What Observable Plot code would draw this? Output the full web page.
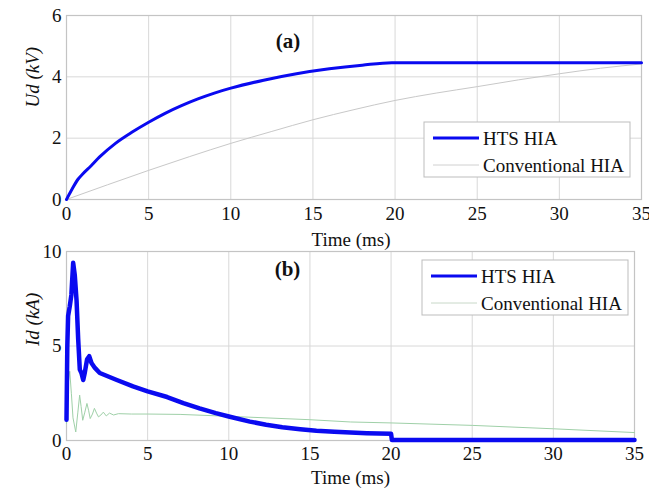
<!DOCTYPE html>
<html>
<head>
<meta charset="utf-8">
<script src="https://cdn.jsdelivr.net/npm/d3@7"></script>
<script src="https://cdn.jsdelivr.net/npm/@observablehq/plot@0.6"></script>
<style>
  body { margin: 0; background: #fff; }
  #wrap { position: relative; width: 649px; height: 488px; overflow: hidden; background: #fff; }
  #top, #bot { position: absolute; left: 0; }
  #top { top: 0; z-index: 1; }
  #bot { top: 238px; z-index: 2; }
  svg { background: transparent !important; }
  svg text { font-family: "Liberation Serif", "Times New Roman", serif !important; }
</style>
</head>
<body>
<div id="wrap"><div id="top"></div><div id="bot"></div></div>
<script>
// ---- Data ----
const xTicks = [0, 5, 10, 15, 20, 25, 30, 35];
const udTicks = [0, 2, 4, 6];
const idTicks = [0, 5, 10];
const seriesNames = ["HTS HIA", "Conventional HIA"];

// (a) Ud (kV)
const udHtsTime = [0, 0.3, 0.7, 1, 1.5, 2, 3, 4, 5, 6, 7, 8, 9, 10, 12, 14, 16, 18, 19.8, 35];
const udHtsVal  = [0, 0.3, 0.66, 0.84, 1.1, 1.38, 1.84, 2.2, 2.52, 2.81, 3.06, 3.28, 3.47, 3.63, 3.89, 4.1, 4.26, 4.38, 4.46, 4.46];
const udConvTime = [0, 2.5, 5, 7.5, 10, 12.5, 15, 17.5, 20, 22.5, 25, 27.5, 30, 32.5, 35];
const udConvVal  = [0, 0.48, 0.95, 1.4, 1.83, 2.22, 2.6, 2.93, 3.23, 3.47, 3.68, 3.9, 4.1, 4.28, 4.42];

// (b) Id (kA)
const idHtsTime = [0, 0.05, 0.1, 0.2, 0.3, 0.41, 0.51, 0.62, 0.72, 0.82, 0.92, 1.03, 1.13, 1.27, 1.4, 1.54, 1.75, 2.05, 3.1, 4.1, 5, 6.2, 7.2, 8.2, 9.2, 10, 11.3, 12.3, 13.3, 14.4, 15.4, 16.5, 17.5, 18.5, 20.0, 20.05, 35];
const idHtsVal  = [1.1, 5.0, 6.6, 7.1, 7.7, 9.4, 8.75, 7.4, 5.36, 3.75, 3.57, 3.2, 3.6, 4.3, 4.46, 4.1, 3.84, 3.57, 3.2, 2.86, 2.6, 2.3, 1.98, 1.7, 1.45, 1.27, 1.0, 0.83, 0.7, 0.6, 0.52, 0.46, 0.42, 0.39, 0.36, 0.03, 0.03];
const idConvTime = [0, 0.1, 0.2, 0.3, 0.4, 0.57, 0.7, 0.81, 0.9, 1.0, 1.13, 1.26, 1.36, 1.46, 1.6, 1.72, 1.85, 1.97, 2.12, 2.27, 2.45, 2.65, 2.9, 3.2, 4, 5, 7, 10, 15, 17.5, 20, 25, 30, 35];
const idConvVal  = [0.9, 3.0, 3.66, 2.5, 1.2, 0.45, 1.5, 2.4, 1.8, 1.07, 1.5, 1.96, 1.6, 1.16, 1.4, 1.7, 1.45, 1.25, 1.35, 1.5, 1.3, 1.45, 1.35, 1.42, 1.4, 1.4, 1.38, 1.28, 1.1, 0.98, 0.93, 0.8, 0.62, 0.42];

const BLUE = "#0a0af0";
const GRAY = "#c8c8c8";
const GREEN = "#9fd0a8";
const FONT = 19;
const SERIF = '"Liberation Serif", "Times New Roman", serif';

const zip = (t, v) => t.map((x, i) => ({t: x, v: v[i]}));

function panel({width, height, mt, mr, mb, ml, yDomain, yTicks, yLabel, tag, series, tagDx, tagDy, timeDy, timeDx, xPad}) {
  return Plot.plot({
    width, height,
    marginTop: mt, marginRight: mr, marginBottom: mb, marginLeft: ml,
    style: {fontFamily: SERIF, fontSize: FONT + "px", color: "#111", background: "transparent", overflow: "visible"},
    x: {domain: [0, 35], ticks: xTicks},
    y: {domain: yDomain, ticks: yTicks},
    marks: [
      Plot.gridX(xTicks, {stroke: "#d8d8d8", strokeOpacity: 1, strokeWidth: 1}),
      Plot.gridY(yTicks, {stroke: "#d8d8d8", strokeOpacity: 1, strokeWidth: 1}),
      Plot.frame({stroke: "#c4c4c4", strokeWidth: 1.2}),
      ...series.map(s => Plot.line(s.data, {x: "t", y: "v", stroke: s.color, strokeWidth: s.width, strokeLinejoin: "round", curve: s.curve || "linear"})),
      Plot.axisX(xTicks, {tickSize: 0, tickPadding: xPad, label: null, fontSize: FONT, fontFamily: SERIF}),
      Plot.axisY(yTicks, {tickSize: 0, tickPadding: 5, label: null, fontSize: FONT, fontFamily: SERIF}),
      Plot.text([yLabel], {frameAnchor: "left", text: d => d, rotate: -90, dx: -34, fontStyle: "italic", fontSize: FONT, fontFamily: SERIF}),
      Plot.text(["Time (ms)"], {frameAnchor: "bottom", text: d => d, dy: timeDy, dx: timeDx, lineAnchor: "middle", fontSize: FONT, fontFamily: SERIF}),
      Plot.text([tag], {frameAnchor: "top", text: d => d, dx: tagDx, dy: tagDy, lineAnchor: "middle", fontWeight: "bold", fontSize: 21, fontFamily: SERIF})
    ]
  });
}

function addLegend(svg, x, y, w, h, items) {
  const g = d3.select(svg).append("g");
  g.append("rect").attr("x", x).attr("y", y).attr("width", w).attr("height", h)
    .attr("fill", "#fff").attr("stroke", "#bdbdbd").attr("stroke-width", 1);
  items.forEach((it, i) => {
    const cy = y + 16 + i * 27;
    g.append("line").attr("x1", x + 9).attr("x2", x + 55).attr("y1", cy).attr("y2", cy)
      .attr("stroke", it.color).attr("stroke-width", it.width);
    g.append("text").attr("x", x + 59).attr("y", cy).attr("dy", "0.35em")
      .attr("text-anchor", "start").attr("font-family", SERIF)
      .attr("font-size", FONT).attr("fill", "#111").text(it.name);
  });
}

const topSvg = panel({
  width: 649, height: 252, mt: 15, mr: 8, mb: 53, ml: 66,
  yDomain: [0, 6], yTicks: udTicks, yLabel: "Ud (kV)", tag: "(a)",
  tagDx: -66, tagDy: 26, timeDy: 40, timeDx: -3, xPad: 7,
  series: [
    {data: zip(udConvTime, udConvVal), color: GRAY, width: 1, curve: "monotone-x"},
    {data: zip(udHtsTime, udHtsVal), color: BLUE, width: 3, curve: "monotone-x"}
  ]
});
addLegend(topSvg, 424, 122, 206, 55, [
  {name: seriesNames[0], color: BLUE, width: 3},
  {name: seriesNames[1], color: "#d0d0d0", width: 1}
]);
document.getElementById("top").appendChild(topSvg);

const botSvg = panel({
  width: 649, height: 250, mt: 13, mr: 15, mb: 48, ml: 66,
  yDomain: [0, 10], yTicks: idTicks, yLabel: "Id (kA)", tag: "(b)",
  tagDx: -63, tagDy: 18, timeDy: 37, timeDx: 0, xPad: 6,
  series: [
    {data: zip(idConvTime, idConvVal), color: GREEN, width: 1},
    {data: zip(idHtsTime, idHtsVal), color: BLUE, width: 4.5}
  ]
});
addLegend(botSvg, 422, 22, 206, 55, [
  {name: seriesNames[0], color: BLUE, width: 3},
  {name: seriesNames[1], color: "#c8d8c8", width: 1}
]);
document.getElementById("bot").appendChild(botSvg);
</script>
</body>
</html>
